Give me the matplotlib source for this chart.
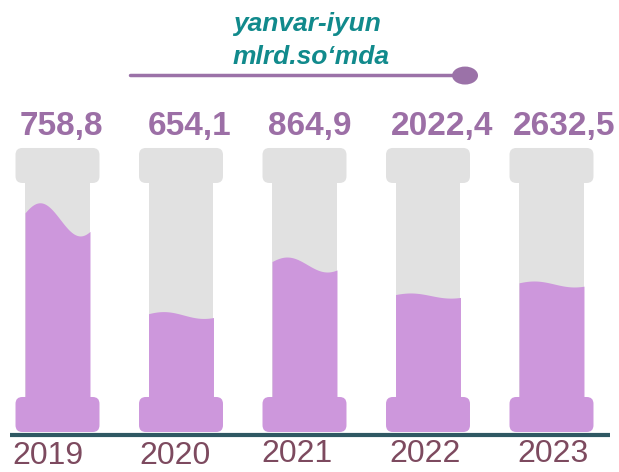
import numpy as np
import matplotlib
matplotlib.use("Agg")
from matplotlib import pyplot as plt
from matplotlib.patches import FancyBboxPatch, Rectangle, Ellipse

years = ["2019", "2020", "2021", "2022", "2023"]
values = [758.8, 654.1, 864.9, 2022.4, 2632.5]
# how full each tube is drawn (share of tube height)
fill_share = [0.83, 0.383, 0.619, 0.474, 0.528]
wave_amp = [0.0775, 0.016, 0.035, 0.012, 0.014]
title_lines = ["yanvar-iyun", "mlrd.so\u2018mda"]

# small nudges for the labels, in column units
value_dx = [0.035, 0.07, 0.04, 0.11, 0.10]
year_dx = [-0.08, -0.045, -0.06, -0.025, 0.015]
year_dy = [0.0, 0.0, 0.008, 0.008, 0.008]

purple = "#cd97dc"
grey = "#e1e1e1"
label_purple = "#9c6fa6"
teal = "#118a8c"
year_col = "#7d4a5f"

plt.rcParams['font.family'] = ['Liberation Sans', 'DejaVu Sans']

fig = plt.figure(figsize=(6.19, 4.72), dpi=100)
ax = fig.add_axes([0, 0, 1, 1])
ax.set_xlim(-0.4656, 4.5466)
ax.set_ylim(-0.3505, 1.855)
ax.axis('off')

# y units per pixel / x units per pixel, keeps corners round
asp = (1 / 214) / (1 / 123.5)
tube_w = 0.526
cap_w = 0.68
cap_h = 0.1636

for i, (yr, v, lvl, amp) in enumerate(zip(years, values, fill_share, wave_amp)):
    # grey tube
    ax.add_patch(Rectangle((i - tube_w / 2, 0), tube_w, 1.0, color=grey, lw=0, zorder=1))
    # liquid with wavy top
    t = np.linspace(0, 1, 80)
    top = lvl + amp * np.sin(2 * np.pi * (t + 0.08) / 1.24)
    xs = i - tube_w / 2 + t * tube_w
    ax.fill_between(xs, 0, top, color=purple, lw=0, zorder=2)
    # top cap
    ax.add_patch(FancyBboxPatch((i - cap_w / 2, 1.0), cap_w, cap_h,
                                boxstyle="round,pad=0,rounding_size=0.055",
                                mutation_aspect=asp, color=grey, lw=0, zorder=3))
    # base
    ax.add_patch(FancyBboxPatch((i - cap_w / 2, -cap_h), cap_w, cap_h,
                                boxstyle="round,pad=0,rounding_size=0.055",
                                mutation_aspect=asp, color=purple, lw=0, zorder=3))
    ax.text(i + value_dx[i], 1.262, f"{v:.1f}".replace(".", ","), ha='center', va='center',
            fontsize=24, fontweight='bold', color=label_purple)
    ax.text(i + year_dx[i], -0.276 + year_dy[i], yr, ha='center', va='center',
            fontsize=23, color=year_col)

# ground line
ax.plot([-0.385, 4.475], [-0.176, -0.176], color="#2f5863", lw=3, solid_capstyle='butt', zorder=4)

# header
ax.text(2.02, 1.745, title_lines[0], ha='center', va='center', fontsize=19,
        fontweight='bold', style='italic', color=teal)
ax.text(2.05, 1.590, title_lines[1], ha='center', va='center', fontsize=19,
        fontweight='bold', style='italic', color=teal)
ax.plot([0.587, 3.26], [1.505, 1.505], color="#9b72a8", lw=2.5, solid_capstyle='round')
ax.add_patch(Ellipse((3.30, 1.502), 0.21, 0.084, color="#9b72a8", lw=0))

fig.savefig("out.png", dpi=100)
